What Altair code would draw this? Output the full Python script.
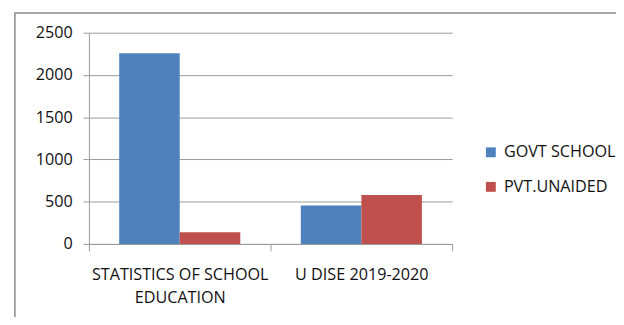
import altair as alt
import pandas as pd

categories = ["STATISTICS OF SCHOOL EDUCATION", "U DISE 2019-2020"]
series = ["GOVT SCHOOL", "PVT.UNAIDED"]
govt = [2258, 456]
pvt = [137, 580]
y_ticks = [0, 500, 1000, 1500, 2000, 2500]

rows = []
for c, g, p in zip(categories, govt, pvt):
    rows.append({"cat": c, "series": series[0], "value": g})
    rows.append({"cat": c, "series": series[1], "value": p})
df = pd.DataFrame(rows)

FONT = "Open Sans"
FS = 16.4
GRID = "#9a9a9a"
TEXT = "#111111"

frame = alt.Chart(pd.DataFrame({"a": [0]})).mark_rect(
    fill="transparent", stroke="#8a8a8a", strokeWidth=1.5
).encode(
    x=alt.value(-75), x2=alt.value(900), y=alt.value(-20), y2=alt.value(600)
)

bars = alt.Chart(df).mark_bar().encode(
    x=alt.X(
        "cat:N",
        sort=categories,
        scale=alt.Scale(paddingInner=0, paddingOuter=0),
        axis=alt.Axis(
            title=None,
            labelAngle=0,
            tickBand="extent",
            tickSize=7,
            tickColor=GRID,
            domainColor=GRID,
            labelPadding=16,
            labelFontSize=FS,
            labelLineHeight=23,
            labelBaseline="top",
            labelExpr="datum.label == 'STATISTICS OF SCHOOL EDUCATION' ? ['STATISTICS OF SCHOOL', 'EDUCATION'] : datum.label",
        ),
    ),
    xOffset=alt.XOffset(
        "series:N", sort=series, scale=alt.Scale(paddingInner=0, paddingOuter=0.5)
    ),
    y=alt.Y(
        "value:Q",
        scale=alt.Scale(domain=[0, 2500], nice=False),
        axis=alt.Axis(
            title=None,
            values=y_ticks,
            format="d",
            tickSize=6,
            tickColor=GRID,
            domainColor=GRID,
            gridColor=GRID,
            labelPadding=11,
            labelFontSize=FS,
        ),
    ),
    color=alt.Color(
        "series:N",
        sort=series,
        scale=alt.Scale(domain=series, range=["#4F81BD", "#C0504D"]),
        legend=alt.Legend(
            title=None,
            orient="none",
            legendX=399,
            legendY=113,
            symbolType="square",
            symbolSize=100,
            symbolStrokeWidth=0,
            symbolOpacity=1,
            labelFontSize=FS,
            labelOffset=5,
            rowPadding=18,
        ),
    ),
)

chart = alt.layer(frame, bars).properties(
    width=368,
    height=214,
    autosize=alt.AutoSizeParams(type="none"),
    padding={"left": 82, "top": 23, "right": 166, "bottom": 72},
).configure(
    font=FONT,
).configure_axis(
    labelColor=TEXT,
    labelFont=FONT,
    gridWidth=1,
).configure_legend(
    labelColor=TEXT,
    labelFont=FONT,
).configure_view(
    stroke=None,
)

chart.save("out.html", embed_options={"renderer": "svg", "actions": False})
